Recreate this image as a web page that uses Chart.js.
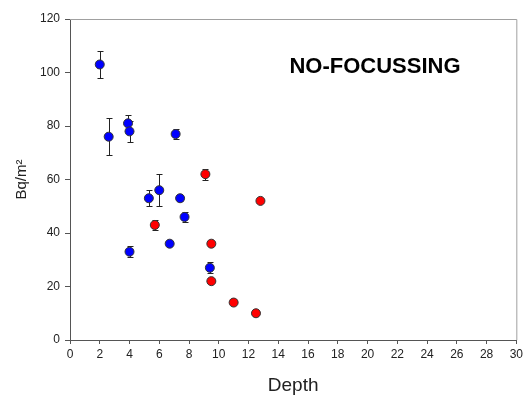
<!DOCTYPE html>
<html>
<head>
<meta charset="utf-8">
<script src="https://cdn.jsdelivr.net/npm/chart.js@4"></script>
<style>
    body { margin: 0; background: #fff; }
</style>
</head>
<body>
<canvas id="myChart" width="526" height="397"></canvas>
<script>
// blue points (with error bars)
const blueX = [2.0, 2.6, 3.9, 4.0, 7.1, 5.3, 6.0, 7.4, 7.7, 4.0, 6.7, 9.4];
const blueY = [103, 76, 81, 78, 77, 53, 56, 53, 46, 33, 36, 27];
const blueErr = [5, 7, 3, 4, 2, 3, 6, 1, 2, 2, 0, 2];

// red points
const redX = [9.1, 12.8, 5.7, 9.5, 9.5, 11.0, 12.5];
const redY = [62, 52, 43, 36, 22, 14, 10];
const redErr = [2, 0, 2, 0, 0, 0, 0];

const xTicks = [0, 2, 4, 6, 8, 10, 12, 14, 16, 18, 20, 22, 24, 26, 28, 30];
const yTicks = [0, 20, 40, 60, 80, 100, 120];

const label = "NO-FOCUSSING";

function toPoints(xs, ys, errs) {
    return xs.map((x, i) => ({ x: x, y: ys[i], err: errs[i] }));
}

const FONT = "'Liberation Sans', Arial, sans-serif";

const frame = {
    id: 'frame',
    beforeDatasetsDraw(chart) {
        const { ctx, chartArea: a } = chart;
        ctx.save();
        ctx.strokeStyle = '#a0a0a0';
        ctx.lineWidth = 1;
        ctx.beginPath();
        ctx.moveTo(a.left, a.top + 0.5);
        ctx.lineTo(a.right + 0.5, a.top + 0.5);
        ctx.lineTo(a.right + 0.5, a.bottom);
        ctx.stroke();
        ctx.restore();
    }
};

const errorBars = {
    id: 'errorBars',
    beforeDatasetsDraw(chart) {
        const { ctx, scales } = chart;
        ctx.save();
        ctx.strokeStyle = '#222';
        ctx.lineWidth = 1;
        chart.data.datasets.forEach(ds => {
            ds.data.forEach(p => {
                if (!p.err) return;
                const px = Math.round(scales.x.getPixelForValue(p.x)) + 0.5;
                const top = Math.round(scales.y.getPixelForValue(p.y + p.err)) + 0.5;
                const bot = Math.round(scales.y.getPixelForValue(p.y - p.err)) + 0.5;
                ctx.beginPath();
                ctx.moveTo(px, top);
                ctx.lineTo(px, bot);
                ctx.moveTo(px - 3, top);
                ctx.lineTo(px + 3, top);
                ctx.moveTo(px - 3, bot);
                ctx.lineTo(px + 3, bot);
                ctx.stroke();
            });
        });
        ctx.restore();
    }
};

const annotation = {
    id: 'annotation',
    afterDraw(chart) {
        const { ctx, scales } = chart;
        ctx.save();
        ctx.font = "bold 22px " + FONT;
        ctx.fillStyle = '#000';
        ctx.textAlign = 'center';
        ctx.textBaseline = 'alphabetic';
        ctx.fillText(label, scales.x.getPixelForValue(20.5), scales.y.getPixelForValue(100));
        ctx.restore();
    }
};

const ctx = document.getElementById('myChart');
const chart = new Chart(ctx, {
    type: 'scatter',
    data: {
        datasets: [{
            data: toPoints(blueX, blueY, blueErr),
            backgroundColor: '#0000ff',
            borderColor: '#333',
            borderWidth: 1,
            pointRadius: 4.5,
        }, {
            data: toPoints(redX, redY, redErr),
            backgroundColor: '#ff0000',
            borderColor: '#333',
            borderWidth: 1,
            pointRadius: 4.5,
        }]
    },
    options: {
        responsive: false,
        animation: false,
        layout: { padding: { top: 19, right: 9 } },
        plugins: {
            legend: { display: false },
            tooltip: { enabled: false },
        },
        scales: {
            x: {
                type: 'linear',
                min: 0,
                max: 30,
                afterBuildTicks: s => { s.ticks = xTicks.map(v => ({ value: v })); },
                afterFit: s => { s.height = 57; },
                ticks: { font: { family: FONT, size: 12 }, color: '#222', padding: 3, maxRotation: 0 },
                grid: { drawOnChartArea: false, tickLength: 4, color: '#555' },
                border: { color: '#555' },
                title: {
                    display: true,
                    text: 'Depth',
                    font: { family: FONT, size: 19 },
                    color: '#222',
                    padding: { top: 0, bottom: 0 },
                }
            },
            y: {
                min: 0,
                max: 120,
                afterBuildTicks: s => { s.ticks = yTicks.map(v => ({ value: v })); },
                afterFit: s => { s.width = 70; },
                ticks: { font: { family: FONT, size: 12 }, color: '#222', padding: 5 },
                grid: { drawOnChartArea: false, tickLength: 5, color: '#555' },
                border: { color: '#555' },
                title: {
                    display: true,
                    text: 'Bq/m²',
                    font: { family: FONT, size: 15 },
                    color: '#222',
                    padding: { top: 13, bottom: 0 },
                }
            }
        }
    },
    plugins: [frame, errorBars, annotation]
});
</script>
</body>
</html>
